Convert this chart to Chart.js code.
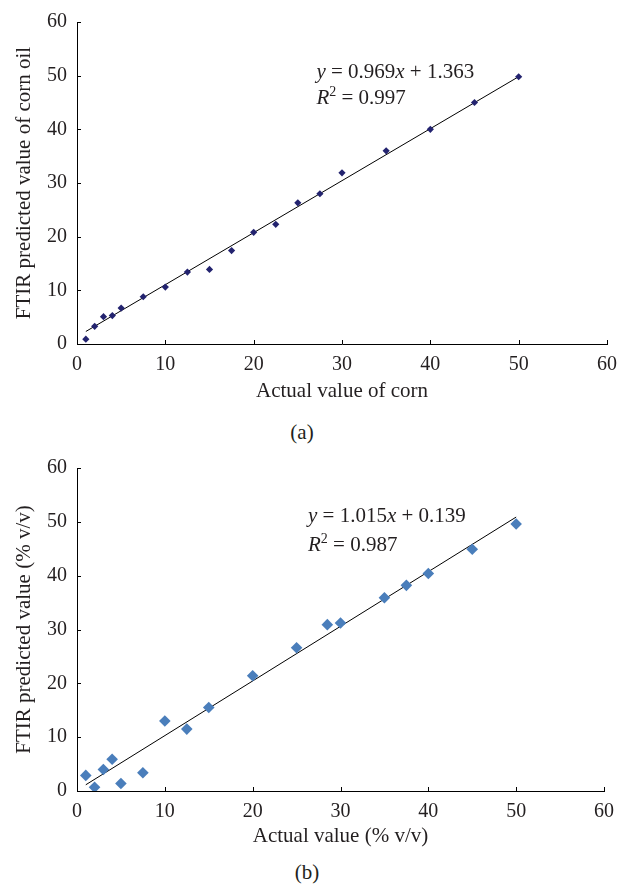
<!DOCTYPE html>
<html>
<head>
<meta charset="utf-8">
<script src="https://cdn.jsdelivr.net/npm/chart.js@4"></script>
<style>
  body { margin: 0; background: #fff; }
  #page { position: relative; width: 617px; height: 886px; }
  canvas { position: absolute; left: 0; }
  .cap { position: absolute; font-family: "Liberation Serif", serif; font-size: 21px; color: #231f20; transform: translate(-50%, -50%); }
</style>
</head>
<body>
<div id="page">
  <canvas id="chartA" width="617" height="405" style="top:0"></canvas>
  <div class="cap" style="left:302px; top:432px">(a)</div>
  <canvas id="chartB" width="617" height="405" style="top:445px"></canvas>
  <div class="cap" style="left:307px; top:872px">(b)</div>
</div>
<script>
// (a) corn oil
const cornActual = [1, 2, 3, 4, 5, 7.5, 10, 12.5, 15, 17.5, 20, 22.5, 25, 27.5, 30, 35, 40, 45, 50];
const cornPredicted = [0.9, 3.3, 5.1, 5.3, 6.7, 8.8, 10.6, 13.4, 13.9, 17.4, 20.8, 22.3, 26.3, 28.0, 31.9, 36.0, 40.0, 45.0, 49.8];
const cornFit = { slope: 0.969, intercept: 1.363, from: 1, to: 50 };

// (b) % v/v
const volActual = [1, 2, 3, 4, 5, 7.5, 10, 12.5, 15, 20, 25, 28.5, 30, 35, 37.5, 40, 45, 50];
const volPredicted = [2.9, 0.7, 4.0, 5.9, 1.4, 3.4, 13.0, 11.5, 15.5, 21.4, 26.6, 30.9, 31.2, 35.9, 38.2, 40.4, 44.9, 49.6];
const volFit = { slope: 1.015, intercept: 0.139, from: 1, to: 50 };

const axisTicks = [0, 10, 20, 30, 40, 50, 60];

const FONT = '"Liberation Serif", "Times New Roman", serif';
const INK = '#231f20';

function fitLine(fit) {
    return [fit.from, fit.to].map(function (x) {
        return { x: x, y: fit.slope * x + fit.intercept };
    });
}

// inward tick marks, drawn from the scales
const innerTicks = {
    id: 'innerTicks',
    afterDraw: function (chart) {
        const ctx = chart.ctx;
        const xs = chart.scales.x, ys = chart.scales.y;
        ctx.save();
        ctx.strokeStyle = '#000';
        ctx.lineWidth = 1;
        ctx.beginPath();
        axisTicks.forEach(function (v) {
            const px = Math.round(xs.getPixelForValue(v)) + 0.5;
            ctx.moveTo(px, ys.bottom);
            ctx.lineTo(px, ys.bottom - 4);
            const py = Math.round(ys.getPixelForValue(v)) + 0.5;
            ctx.moveTo(xs.left, py);
            ctx.lineTo(xs.left + 4, py);
        });
        ctx.stroke();
        ctx.restore();
    }
};

// regression equation text
const equation = {
    id: 'equation',
    afterDraw: function (chart, args, opts) {
        const ctx = chart.ctx;
        const x0 = chart.scales.x.getPixelForValue(opts.x);
        const y1 = chart.scales.y.getPixelForValue(opts.y1);
        const y2 = chart.scales.y.getPixelForValue(opts.y2);
        ctx.save();
        ctx.fillStyle = INK;
        ctx.textBaseline = 'middle';
        function run(parts, x, y) {
            parts.forEach(function (p) {
                ctx.font = (p.i ? 'italic ' : '') + (p.s || 21) + 'px ' + FONT;
                ctx.fillText(p.t, x, y + (p.dy || 0));
                x += ctx.measureText(p.t).width;
            });
        }
        run([{ t: 'y', i: true }, { t: ' = ' + opts.slope.toFixed(3) }, { t: 'x', i: true }, { t: ' + ' + opts.intercept.toFixed(3) }], x0, y1);
        run([{ t: 'R', i: true }, { t: '2', s: 14, dy: -6 }, { t: ' = ' + opts.r2.toFixed(3) }], x0, y2);
        ctx.restore();
    }
};

function makeChart(id, xs, ys, fit, color, radius, xTitle, yTitle, padTop, padRight, eq) {
    const points = xs.map(function (x, i) { return { x: x, y: ys[i] }; });
    return new Chart(document.getElementById(id), {
        type: 'scatter',
        data: {
            datasets: [{
                data: points,
                pointStyle: 'rectRot',
                pointRadius: radius,
                backgroundColor: color,
                borderColor: color,
                borderWidth: 0,
            }, {
                type: 'line',
                data: fitLine(fit),
                borderColor: '#000',
                borderWidth: 1,
                pointRadius: 0,
                fill: false,
            }]
        },
        options: {
            responsive: false,
            animation: false,
            layout: { padding: { top: padTop, right: padRight, left: 0, bottom: 0 } },
            plugins: {
                legend: { display: false },
                tooltip: { enabled: false },
                equation: eq
            },
            scales: {
                x: {
                    type: 'linear',
                    min: 0,
                    max: 60,
                    afterFit: function (s) {
                        s.height = 405 - 344 - padTop + 21;
                        s.paddingRight = 0;
                        s.paddingLeft = 0;
                    },
                    border: { display: true, color: '#000', width: 1 },
                    grid: { display: false, drawTicks: false },
                    ticks: { stepSize: 10, padding: 9, color: INK, font: { family: FONT, size: 20 } },
                    title: { display: true, text: xTitle, color: INK, padding: { top: 0, bottom: 1 }, font: { family: FONT, size: 21 } }
                },
                y: {
                    min: 0,
                    max: 60,
                    afterFit: function (s) { s.width = 77; },
                    border: { display: true, color: '#000', width: 1 },
                    grid: { display: false, drawTicks: false },
                    ticks: { stepSize: 10, padding: 10, color: INK, font: { family: FONT, size: 20 } },
                    title: { display: true, text: yTitle, color: INK, padding: { top: 12, bottom: 0 }, font: { family: FONT, size: 21 } }
                }
            }
        },
        plugins: [innerTicks, equation]
    });
}

makeChart('chartA', cornActual, cornPredicted, cornFit, '#23236f', 3.6,
    'Actual value of corn', 'FTIR predicted value of corn oil', 21, 10,
    { x: 27.1, y1: 50.6, y2: 45.7, slope: 0.969, intercept: 1.363, r2: 0.997 });

makeChart('chartB', volActual, volPredicted, volFit, '#4a7ebb', 5.8,
    'Actual value (% v/v)', 'FTIR predicted value (% v/v)', 23, 13,
    { x: 26.3, y1: 51.0, y2: 45.6, slope: 1.015, intercept: 0.139, r2: 0.987 });
</script>
</body>
</html>
